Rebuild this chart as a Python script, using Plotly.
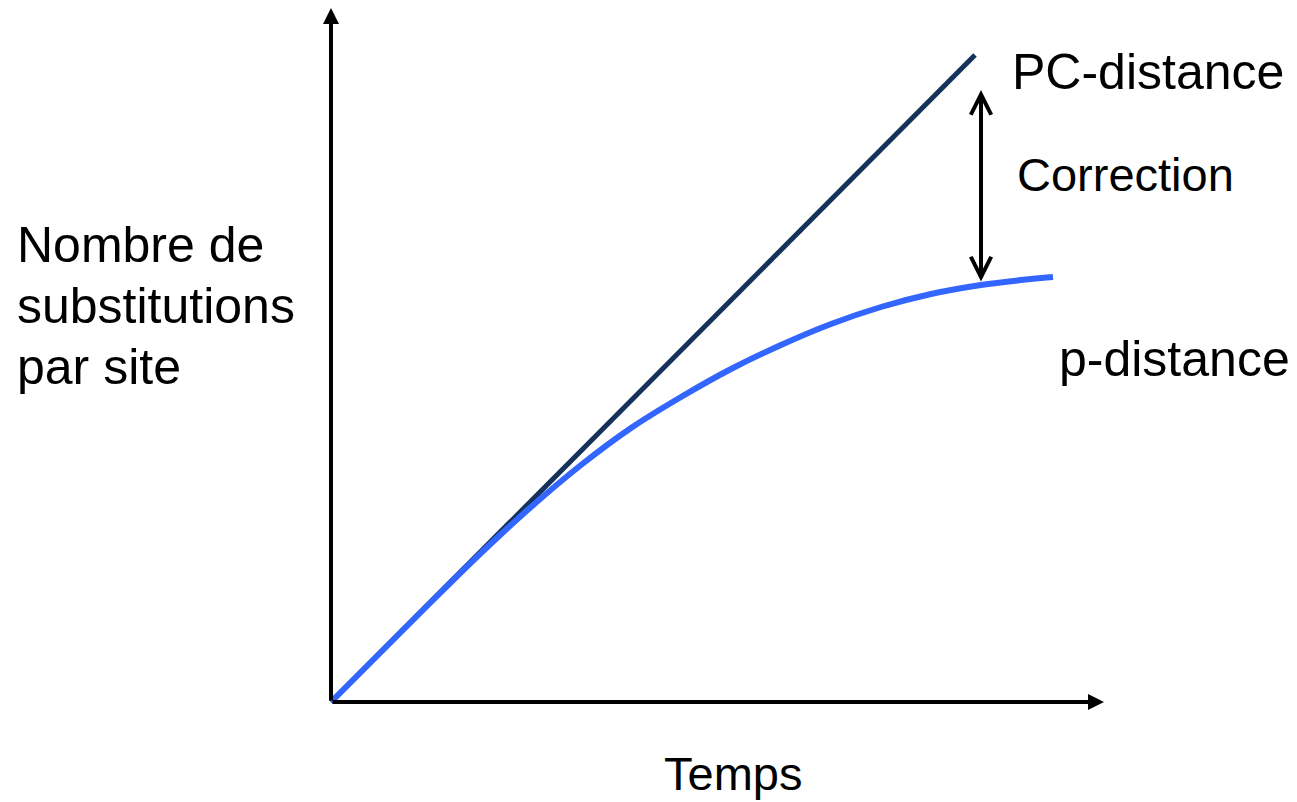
import plotly.graph_objects as go

# PC-distance (straight line) and p-distance (saturating curve)
time_pc = [0, 6.44]
pc_distance = [0, 6.47]

time_p = [0, 0.5, 1, 1.5, 2, 2.5, 3, 3.5, 4, 4.5, 5, 5.5, 6, 6.5, 7, 7.22]
p_distance = [0, 0.50, 1.00, 1.49, 1.95, 2.37, 2.74, 3.05, 3.33, 3.57, 3.78, 3.95, 4.08, 4.17, 4.23, 4.25]

x_axis_end = 7.73
y_axis_end = 6.94
corr_x = 6.50
corr_top = 6.12
corr_bottom = 4.19

y_label_lines = ["Nombre de", "substitutions", "par site"]
x_label = "Temps"

FONT = "Liberation Sans, Arial, sans-serif"
W, H = 1289, 794
L, R, T, B = 313, 186, 0, 90
PW, PH = W - L - R, H - T - B


def px_x(fx):
    return (fx - L) / PW


def px_y(fy):
    return (H - B - fy) / PH


fig = go.Figure()
fig.add_trace(go.Scatter(x=time_pc, y=pc_distance, mode="lines",
                         line=dict(color="#14325a", width=5), hoverinfo="skip"))
fig.add_trace(go.Scatter(x=time_p, y=p_distance, mode="lines",
                         line=dict(color="#3366ff", width=6, shape="spline", smoothing=1),
                         hoverinfo="skip"))

ann = []
# axes with arrows
ann.append(dict(x=0, y=y_axis_end, ax=0, ay=0, xref="x", yref="y", axref="x", ayref="y",
                text="", showarrow=True, arrowhead=2, arrowsize=0.8, arrowwidth=4,
                arrowcolor="black", standoff=0))
ann.append(dict(x=x_axis_end, y=0, ax=0, ay=0, xref="x", yref="y", axref="x", ayref="y",
                text="", showarrow=True, arrowhead=2, arrowsize=0.8, arrowwidth=4,
                arrowcolor="black", standoff=0))
# correction double arrow
ann.append(dict(x=corr_x, y=corr_top, ax=corr_x, ay=corr_bottom, xref="x", yref="y",
                axref="x", ayref="y", text="", showarrow=True, arrowhead=5, startarrowhead=5,
                arrowside="end+start", arrowsize=1.0, startarrowsize=1.0, arrowwidth=4,
                arrowcolor="black", standoff=0, startstandoff=0))


def txt(fx, fy, s, size, xanchor="left"):
    return dict(x=px_x(fx), y=px_y(fy), xref="paper", yref="paper", text=s,
                showarrow=False, xanchor=xanchor, yanchor="middle", align=xanchor,
                font=dict(family=FONT, size=size, color="black"))


ann.append(txt(1002, 64, "PC-distance", 50))
ann.append(txt(1007, 167, "Correction", 47))
ann.append(txt(1049, 351, "p-distance", 50))
for i, line in enumerate(y_label_lines):
    ann.append(txt(7, 237 + 61 * i, line, 50))
ann.append(txt(725, 765, x_label, 47, xanchor="center"))

fig.update_layout(
    width=W, height=H,
    margin=dict(l=L, r=R, t=T, b=B),
    paper_bgcolor="white", plot_bgcolor="white",
    showlegend=False,
    xaxis=dict(range=[-0.1, 7.8], visible=False, fixedrange=True),
    yaxis=dict(range=[-0.1, 6.94], visible=False, fixedrange=True),
    annotations=ann,
)

fig.write_html("out.html")
